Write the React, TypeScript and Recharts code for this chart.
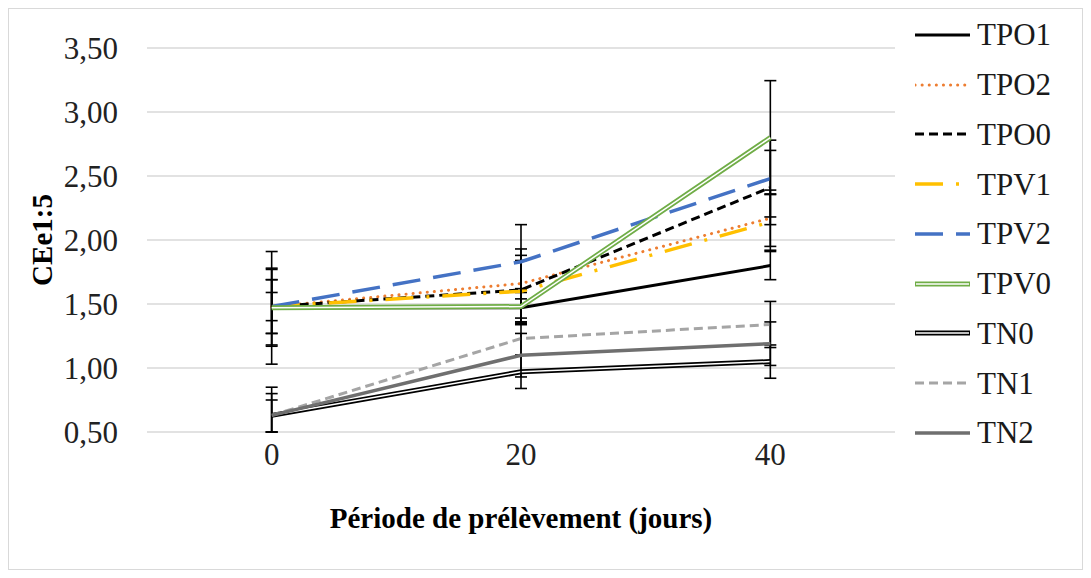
import {
	CartesianGrid,
	ErrorBar,
	Legend,
	Line,
	LineChart,
	XAxis,
	YAxis,
} from "recharts";

// Période de prélèvement (jours)
const days = [0, 20, 40];
const yTicks = [0.5, 1, 1.5, 2, 2.5, 3, 3.5];
const seriesNames = ["TPO1", "TPO2", "TPO0", "TPV1", "TPV2", "TPV0", "TN0", "TN1", "TN2"];

// CEe1:5 moyennes
const tpo1 = [1.47, 1.47, 1.8];
const tpo2 = [1.48, 1.66, 2.17];
const tpo0 = [1.48, 1.61, 2.41];
const tpv1 = [1.48, 1.6, 2.14];
const tpv2 = [1.48, 1.83, 2.48];
const tpv0 = [1.47, 1.48, 2.8];
const tn0 = [0.63, 0.97, 1.05];
const tn1 = [0.63, 1.23, 1.34];
const tn2 = [0.63, 1.1, 1.19];

// écarts [bas, haut] ; à J0 les barres TN s'arrêtent au bas de l'axe (0,50)
const tpo1Err = [[0.44, 0.44], [0.12, 0.12], [0.11, 0.11]];
const tpo2Err = [[0.3, 0.3], [0.27, 0.27], [0.22, 0.22]];
const tpo0Err = [[0.21, 0.21], [0.27, 0.27], [0.29, 0.29]];
const tpv1Err = [[0.11, 0.11], [0.24, 0.24], [0.22, 0.22]];
const tpv2Err = [[0.21, 0.21], [0.29, 0.29], [0.3, 0.3]];
const tpv0Err = [[0.3, 0.3], [0.14, 0.14], [0.445, 0.445]];
const tn0Err = [[0.13, 0.12], [0.13, 0.13], [0.13, 0.13]];
const tn1Err = [[0.13, 0.22], [0.13, 0.13], [0.18, 0.18]];
const tn2Err = [[0.13, 0.17], [0.17, 0.17], [0.17, 0.17]];

const values: Record<string, number[]> = {
	TPO1: tpo1,
	TPO2: tpo2,
	TPO0: tpo0,
	TPV1: tpv1,
	TPV2: tpv2,
	TPV0: tpv0,
	TN0: tn0,
	TN1: tn1,
	TN2: tn2,
};

const errors: Record<string, number[][]> = {
	TPO1: tpo1Err,
	TPO2: tpo2Err,
	TPO0: tpo0Err,
	TPV1: tpv1Err,
	TPV2: tpv2Err,
	TPV0: tpv0Err,
	TN0: tn0Err,
	TN1: tn1Err,
	TN2: tn2Err,
};

const data = days.map((day, i) => {
	const row: Record<string, any> = { day };
	seriesNames.forEach((name) => {
		row[name] = values[name][i];
		row[`${name}_err`] = errors[name][i];
	});
	return row;
});

type LineStyle = {
	color: string;
	width: number;
	dash?: string;
	cap?: "round" | "butt";
	double?: boolean;
};

const styles: Record<string, LineStyle> = {
	TPO1: { color: "#000000", width: 3 },
	TPO2: { color: "#ED7D31", width: 3, dash: "0.1 7", cap: "round" },
	TPO0: { color: "#000000", width: 3, dash: "9 5" },
	TPV1: { color: "#FFC000", width: 3.5, dash: "28 13 3 13" },
	TPV2: { color: "#4472C4", width: 3.5, dash: "28 13" },
	TPV0: { color: "#70AD47", width: 5, double: true },
	TN0: { color: "#000000", width: 5, double: true },
	TN1: { color: "#A5A5A5", width: 3, dash: "9 5" },
	TN2: { color: "#6F6F6F", width: 3.5 },
};

const font = "Liberation Serif";
const formatTick = (v: number) => v.toFixed(2).replace(".", ",");

function LegendSample({ name }: { name: string }) {
	const s = styles[name];
	return (
		<svg width={62} height={14} style={{ flexShrink: 0 }}>
			<line
				x1={0}
				x2={55}
				y1={7}
				y2={7}
				stroke={s.color}
				strokeWidth={s.width}
				strokeDasharray={s.dash}
				strokeLinecap={s.cap ?? "butt"}
			/>
			{s.double && (
				<line x1={1} x2={54} y1={7} y2={7} stroke='#ffffff' strokeWidth={1.5} />
			)}
		</svg>
	);
}

function renderLegend() {
	return (
		<div style={{ fontFamily: font, fontSize: 31, color: "#1a1a1a" }}>
			{seriesNames.map((name) => (
				<div
					key={name}
					style={{ display: "flex", alignItems: "center", height: 49.75 }}
				>
					<LegendSample name={name} />
					<span style={{ lineHeight: 1 }}>{name}</span>
				</div>
			))}
		</div>
	);
}

export default function App() {
	return (
		<div
			style={{
				width: 1073,
				height: 560,
				border: "1px solid #d9d9d9",
				background: "#ffffff",
				fontFamily: font,
			}}
		>
			<LineChart
				width={1073}
				height={560}
				data={data}
				margin={{ top: 39, right: 187, left: 0, bottom: 0 }}
				style={{ fontFamily: font }}
			>
				<CartesianGrid vertical={false} stroke='#d9d9d9' strokeWidth={1.3} />
				<XAxis
					dataKey='day'
					type='number'
					domain={[-10, 50]}
					ticks={days}
					height={137}
					axisLine={false}
					tickLine={false}
					tickSize={0}
					tickMargin={11}
					tick={{ fontSize: 31, fill: "#222222", fontFamily: font }}
					label={{
						value: "Période de prélèvement (jours)",
						position: "insideBottom",
						offset: 41,
						style: {
							fontSize: 29,
							fontWeight: 700,
							fill: "#000000",
							fontFamily: font,
						},
					}}
				/>
				<YAxis
					type='number'
					domain={[0.5, 3.5]}
					ticks={yTicks}
					allowDataOverflow
					width={138}
					axisLine={false}
					tickLine={false}
					tickSize={0}
					tickMargin={29}
					tickFormatter={formatTick}
					tick={{ fontSize: 31, fill: "#222222", fontFamily: font }}
					label={{
						value: "CEe1:5",
						angle: -90,
						position: "insideLeft",
						offset: 33,
						style: {
							textAnchor: "middle",
							fontSize: 29,
							fontWeight: 700,
							fill: "#000000",
							fontFamily: font,
						},
					}}
				/>
				<Legend
					layout='vertical'
					align='center'
					verticalAlign='middle'
					content={renderLegend}
					wrapperStyle={{ top: 1, left: 906, width: 167, height: 450 }}
				/>
				{seriesNames.flatMap((name) => {
					const s = styles[name];
					const lines = [
						<Line
							key={name}
							dataKey={name}
							type='linear'
							stroke={s.color}
							strokeWidth={s.width}
							strokeDasharray={s.dash}
							strokeLinecap={s.cap ?? "butt"}
							dot={false}
							activeDot={false}
							isAnimationActive={false}
						>
							<ErrorBar
								dataKey={`${name}_err`}
								direction='y'
								width={6}
								stroke='#000000'
								strokeWidth={1.6}
								isAnimationActive={false}
							/>
						</Line>,
					];
					if (s.double) {
						lines.push(
							<Line
								key={`${name}-inner`}
								dataKey={name}
								type='linear'
								stroke='#ffffff'
								strokeWidth={1.5}
								dot={false}
								activeDot={false}
								legendType='none'
								isAnimationActive={false}
							/>
						);
					}
					return lines;
				})}
			</LineChart>
		</div>
	);
}
